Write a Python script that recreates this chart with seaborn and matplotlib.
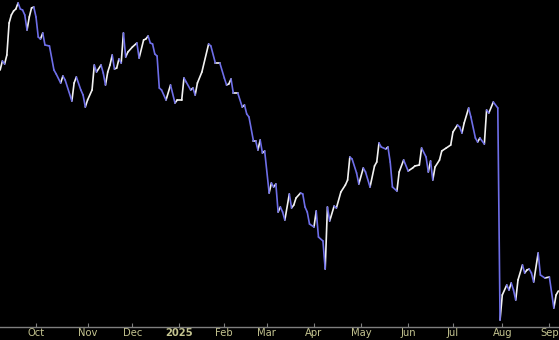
import matplotlib
matplotlib.use("Agg")
import matplotlib.pyplot as plt
import seaborn as sns
import pandas as pd

# trading-day index (0 = 1 Oct 2024) and price level
days = [-16, -15, -14, -13, -12, -11, -10, -9, -8, -7, -6, -5, -4, -3, -2, -1, 0,
        1, 2, 3, 4, 6, 8, 9, 11, 12, 13, 16, 17, 18, 20, 21, 22, 23, 25, 26, 27,
        29, 30, 31, 32, 33, 34, 35, 36, 37, 38, 39, 40, 41, 43, 45, 46, 48, 49,
        50, 51, 52, 53, 54, 55, 56, 58, 60, 62, 63, 65, 66, 67, 69, 70, 71, 72,
        74, 77, 78, 80, 82, 84, 85, 86, 87, 88, 90, 92, 93, 94, 95, 97, 98, 99,
        100, 101, 102, 104, 105, 106, 107, 108, 109, 110, 111, 113, 114, 115,
        116, 118, 119, 120, 121, 122, 124, 125, 126, 128, 129, 130, 131, 133,
        134, 136, 138, 139, 140, 141, 143, 144, 146, 147, 149, 151, 152, 153,
        154, 156, 157, 158, 159, 161, 162, 164, 166, 168, 169, 171, 172, 174,
        175, 176, 177, 178, 180, 181, 183, 185, 186, 188, 189, 190, 191, 193,
        194, 196, 197, 198, 200, 201, 202, 204, 206, 207, 208, 210, 211, 212,
        213, 214, 215, 217, 218, 219, 220, 221, 222, 224, 225, 227, 229, 231,
        232, 233]
values = [260, 269, 266, 275, 307, 315, 319, 321, 327, 321, 320, 315, 300, 313,
          322, 323, 313, 293, 291, 297, 285, 284, 260, 256, 247, 254, 250, 229,
          247, 253, 240, 235, 223, 230, 240, 265, 258, 265, 257, 245, 258, 265,
          275, 261, 262, 271, 267, 297, 273, 278, 283, 287, 272, 290, 291, 294,
          287, 286, 276, 274, 242, 240, 230, 245, 227, 230, 230, 252, 248, 240,
          242, 235, 247, 258, 286, 284, 267, 267, 252, 245, 246, 251, 237, 237,
          223, 225, 216, 213, 189, 189, 180, 190, 177, 179, 137, 147, 143, 146,
          118, 123, 118, 110, 136, 122, 125, 132, 137, 136, 123, 118, 106, 103,
          119, 93, 89, 61, 123, 109, 124, 122, 138, 145, 150, 173, 171, 157, 146,
          162, 158, 143, 164, 168, 187, 183, 181, 183, 168, 143, 139, 158, 170,
          159, 162, 164, 165, 182, 173, 158, 169, 150, 163, 170, 179, 182, 185,
          198, 205, 203, 197, 207, 222, 213, 192, 188, 192, 186, 220, 217, 228,
          222, 10, 35, 45, 40, 47, 40, 30, 50, 65, 57, 60, 61, 57, 48, 77, 55, 52,
          53, 22, 35, 39]

month_labels = ["Oct", "Nov", "Dec", "2025", "Feb", "Mar", "Apr", "May", "Jun",
                "Jul", "Aug", "Sep"]
month_start_days = [0, 23, 43, 64, 84, 103, 124, 145, 166, 186, 208, 229]

# build one two-point piece per step, coloured by direction
rows = []
for i in range(len(days) - 1):
    direction = "up" if values[i + 1] >= values[i] else "down"
    rows.append({"seg": i, "day": days[i], "val": values[i], "dir": direction})
    rows.append({"seg": i, "day": days[i + 1], "val": values[i + 1], "dir": direction})
df = pd.DataFrame(rows)

sns.set_theme(style="dark")
plt.rcParams["font.family"] = ["DejaVu Sans"]

fig = plt.figure(figsize=(5.59, 3.40), dpi=100, facecolor="black")
ax = fig.add_axes([0, 13 / 340, 1, 327 / 340])
ax.set_facecolor("black")

sns.lineplot(data=df, x="day", y="val", units="seg", estimator=None,
             hue="dir", palette={"up": "#f2f2f2", "down": "#6e6ee8"},
             legend=False, sort=False, linewidth=1.2,
             solid_capstyle="round", ax=ax)

ax.set_xlim(-16.06, 233.3)
ax.set_ylim(3, 330)
ax.set_xlabel("")
ax.set_ylabel("")
ax.set_yticks([])
ax.grid(False)

for side in ["top", "left", "right"]:
    ax.spines[side].set_visible(False)
ax.spines["bottom"].set_visible(True)
ax.spines["bottom"].set_color("#7f7f7f")
ax.spines["bottom"].set_linewidth(1.0)

ax.set_xticks(month_start_days)
ax.set_xticklabels(month_labels)
ax.tick_params(axis="x", colors="#7f7f7f", direction="in", length=3,
               width=0.8, pad=1.0, labelsize=7.2, labelcolor="#c4c490",
               bottom=True)
for lbl in ax.get_xticklabels():
    if lbl.get_text() == "2025":
        lbl.set_fontweight("bold")

fig.savefig("out.png", dpi=100, facecolor="black")
